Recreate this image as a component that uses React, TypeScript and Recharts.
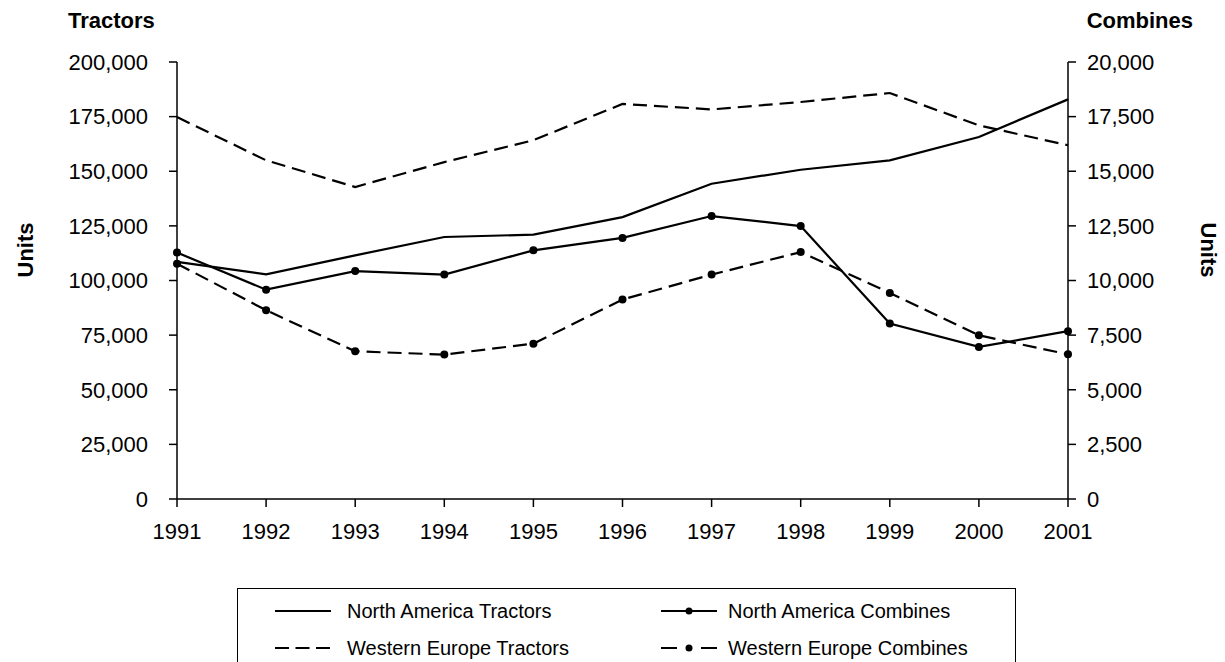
import React from 'react'
import { LineChart, Line, XAxis, YAxis, Legend, Label } from 'recharts'

const years = ['1991', '1992', '1993', '1994', '1995', '1996', '1997', '1998', '1999', '2000', '2001']
const naTractors = [108500, 102800, 111500, 119900, 121000, 129000, 144300, 150700, 155000, 165700, 182900]
const weTractors = [174800, 155000, 142800, 154200, 164200, 180800, 178300, 181700, 185800, 171000, 161900]
const naCombines = [11280, 9580, 10430, 10270, 11380, 11950, 12950, 12490, 8030, 6960, 7680]
const weCombines = [10770, 8640, 6760, 6610, 7110, 9130, 10270, 11300, 9430, 7490, 6620]

const tractorTicks = [0, 25000, 50000, 75000, 100000, 125000, 150000, 175000, 200000]
const combineTicks = [0, 2500, 5000, 7500, 10000, 12500, 15000, 17500, 20000]

const data = years.map((year, i) => ({
  year,
  naTractors: naTractors[i],
  weTractors: weTractors[i],
  naCombines: naCombines[i],
  weCombines: weCombines[i],
}))

const series = [
  { key: 'naTractors', name: 'North America Tractors', axis: 'left', dashed: false, dot: false },
  { key: 'naCombines', name: 'North America Combines', axis: 'right', dashed: false, dot: true },
  { key: 'weTractors', name: 'Western Europe Tractors', axis: 'left', dashed: true, dot: false },
  { key: 'weCombines', name: 'Western Europe Combines', axis: 'right', dashed: true, dot: true },
]

const FONT = '"Liberation Sans", Arial, Helvetica, sans-serif'
const DASH = '14 7'
const fmt = (v: number) => v.toLocaleString('en-US')

const LeftTitles = ({ viewBox }: any) => (
  <g>
    <text x={viewBox.x + 68} y={28} fontSize={22} fontWeight="bold" fill="#000">Tractors</text>
    <text x={viewBox.x + 25} y={250} fontSize={22} fontWeight="bold" fill="#000"
      textAnchor="middle" dominantBaseline="central" transform={`rotate(-90 ${viewBox.x + 25} 250)`}>Units</text>
  </g>
)

const RightTitles = ({ viewBox }: any) => (
  <g>
    <text x={viewBox.x + 125} y={28} fontSize={22} fontWeight="bold" fill="#000" textAnchor="end">Combines</text>
    <text x={viewBox.x + 140} y={250} fontSize={22} fontWeight="bold" fill="#000"
      textAnchor="middle" dominantBaseline="central" transform={`rotate(90 ${viewBox.x + 140} 250)`}>Units</text>
  </g>
)

// legend swatch: dashed lines with a dot get one gap round the dot, like the original
const LegendIcon = ({ dashed, dot }: { dashed: boolean; dot: boolean }) => {
  const dash = dashed ? (dot ? '16 24 16' : '14 6.5') : undefined
  return (
    <svg width={56} height={12} style={{ display: 'block' }}>
      <line x1={0} y1={6} x2={56} y2={6} stroke="#000" strokeWidth={2.2} strokeDasharray={dash} />
      {dot && <circle cx={28} cy={6} r={3.5} fill="#000" />}
    </svg>
  )
}

const itemPos = [
  { icon: 37, text: 109, top: 22 },
  { icon: 423, text: 490, top: 22 },
  { icon: 37, text: 109, top: 59 },
  { icon: 423, text: 490, top: 59 },
]

const ChartLegend = () => (
  <div style={{ position: 'relative', width: 779, height: 100, border: '1.5px solid #000', boxSizing: 'border-box', background: '#fff' }}>
    {series.map((s, i) => (
      <div key={s.key}>
        <div style={{ position: 'absolute', left: itemPos[i].icon, top: itemPos[i].top - 6 }}>
          <LegendIcon dashed={s.dashed} dot={s.dot} />
        </div>
        <div style={{ position: 'absolute', left: itemPos[i].text, top: itemPos[i].top - 12, fontSize: 20, lineHeight: '24px', color: '#000', whiteSpace: 'nowrap' }}>
          {s.name}
        </div>
      </div>
    ))}
  </div>
)

export default function App() {
  const tickStyle = { fill: '#000', fontSize: 22 }
  return (
    <div style={{ position: 'absolute', left: 0, top: 0, width: 1225, height: 662, overflow: 'hidden', background: '#fff', fontFamily: FONT }}>
      <LineChart width={1225} height={662} data={data} margin={{ top: 62, right: 0, left: 0, bottom: 133 }}>
        <XAxis dataKey="year" height={30} interval={0} tickSize={8} tickMargin={16} tick={tickStyle}
          axisLine={{ stroke: '#000', strokeWidth: 1.5 }} tickLine={{ stroke: '#000', strokeWidth: 1.5 }} />
        <YAxis yAxisId="left" width={177} domain={[0, 200000]} ticks={tractorTicks} interval={0}
          tickFormatter={fmt} tickSize={8} tickMargin={21} tick={tickStyle}
          axisLine={{ stroke: '#000', strokeWidth: 1.5 }} tickLine={{ stroke: '#000', strokeWidth: 1.5 }}>
          <Label content={LeftTitles} />
        </YAxis>
        <YAxis yAxisId="right" orientation="right" width={157} domain={[0, 20000]} ticks={combineTicks} interval={0}
          tickFormatter={fmt} tickSize={8} tickMargin={11} tick={tickStyle}
          axisLine={{ stroke: '#000', strokeWidth: 1.5 }} tickLine={{ stroke: '#000', strokeWidth: 1.5 }}>
          <Label content={RightTitles} />
        </YAxis>
        {series.map((s) => (
          <Line key={s.key} yAxisId={s.axis} dataKey={s.key} name={s.name} type="linear"
            stroke="#000" strokeWidth={2.2} strokeDasharray={s.dashed ? DASH : undefined}
            dot={s.dot ? { r: 4, fill: '#000', stroke: '#000', strokeWidth: 0, strokeDasharray: '' } : false}
            activeDot={false} isAnimationActive={false} />
        ))}
        <Legend layout="horizontal" verticalAlign="middle" align="center" content={ChartLegend}
          wrapperStyle={{ left: 237, top: 588, width: 779, height: 100 }} />
      </LineChart>
    </div>
  )
}
